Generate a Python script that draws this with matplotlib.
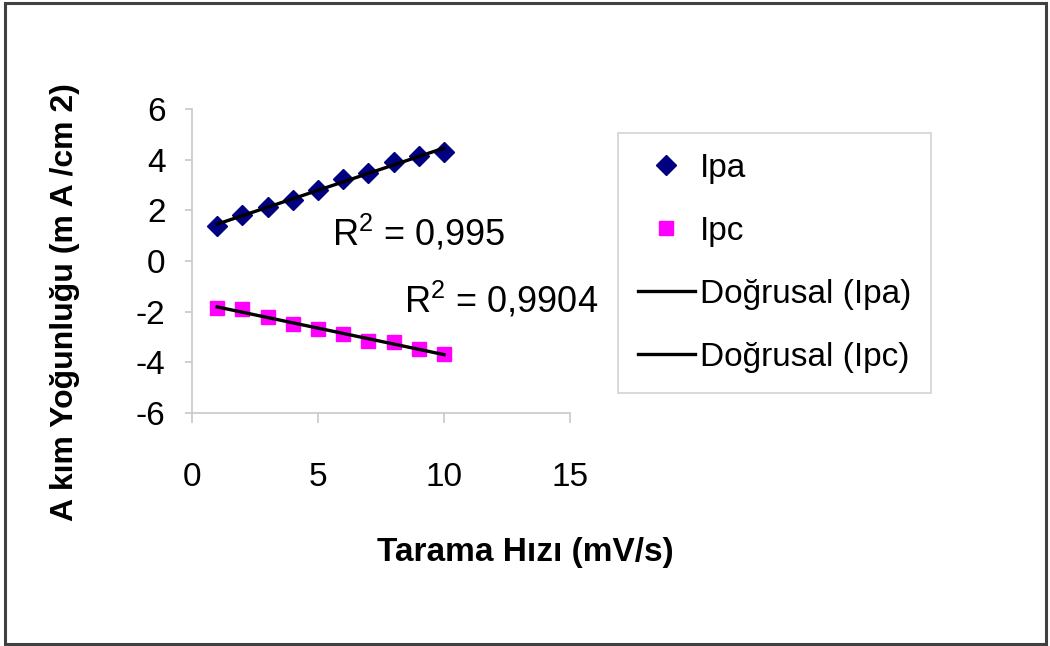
import numpy as np
import matplotlib
matplotlib.use("Agg")
import matplotlib.pyplot as plt
from matplotlib.patches import Rectangle
from matplotlib.lines import Line2D

plt.rcParams['font.family'] = ['Liberation Sans', 'DejaVu Sans']
plt.rcParams['mathtext.fontset'] = 'custom'
plt.rcParams['mathtext.rm'] = 'Liberation Sans'
plt.rcParams['axes.unicode_minus'] = False

# Scan rate (mV/s) and peak current densities (mA/cm2)
scan_rate = [1, 2, 3, 4, 5, 6, 7, 8, 9, 10]
ipa = [1.38, 1.81, 2.13, 2.41, 2.80, 3.23, 3.47, 3.90, 4.14, 4.30]
ipc = [-1.85, -1.90, -2.20, -2.50, -2.70, -2.90, -3.15, -3.20, -3.47, -3.67]
r2_labels = ["R$^{2}$ = 0,995", "R$^{2}$ = 0,9904"]
x_ticks = [0, 5, 10, 15]
y_ticks = [-6, -4, -2, 0, 2, 4, 6]

fig = plt.figure(figsize=(10.5, 6.46), dpi=100)
ax = fig.add_axes([192 / 1050, 1 - 413 / 646, (570 - 192) / 1050, (413 - 109) / 646])

x = np.array(scan_rate, dtype=float)
fit_a = np.polyfit(x, ipa, 1)
fit_c = np.polyfit(x, ipc, 1)

ax.plot(x, ipa, linestyle='none', marker='D', markersize=10, color='#000080', zorder=2)
ax.plot(x, ipc, linestyle='none', marker='s', markersize=9.5, color='#FF00FF', zorder=2)
ax.plot(x, np.polyval(fit_a, x), color='black', lw=2.4, zorder=3)
ax.plot(x, np.polyval(fit_c, x), color='black', lw=2.4, zorder=3)

ax.set_xlim(0, 15)
ax.set_ylim(-6, 6)
ax.set_xticks(x_ticks)
ax.set_yticks(y_ticks)
for s in ['top', 'right']:
    ax.spines[s].set_visible(False)
for s in ['left', 'bottom']:
    ax.spines[s].set_color('#c8c8c8')
    ax.spines[s].set_linewidth(1.2)
ax.tick_params(axis='y', direction='out', length=5, width=1.2, color='#c8c8c8',
               labelsize=24, pad=14)
ax.tick_params(axis='x', direction='out', length=7, width=1.2, color='#c8c8c8',
               labelsize=24, pad=28)

ax.text(5.55, 1.1, r2_labels[0], fontsize=26, ha='left', va='center')
ax.text(8.4, -1.55, r2_labels[1], fontsize=26, ha='left', va='center')

fig.text(525 / 1050, 1 - 553 / 646, "Tarama Hızı (mV/s)", fontsize=24,
         fontweight='bold', ha='center', va='center')
fig.text(65 / 1050, 1 - 302 / 646, "A kım Yoğunluğu (m A /cm 2)", fontsize=23,
         fontweight='bold', ha='center', va='center', rotation=90)

handles = [
    Line2D([], [], linestyle='none', marker='D', markersize=10, color='#000080'),
    Line2D([], [], linestyle='none', marker='s', markersize=9.5, color='#FF00FF'),
    Line2D([], [], color='black', lw=2.4),
    Line2D([], [], color='black', lw=2.4),
]
labels = ["Ipa", "Ipc", "Doğrusal (Ipa)", "Doğrusal (Ipc)"]
leg = fig.legend(handles, labels, loc='upper left',
                 bbox_to_anchor=(618 / 1050, 1 - 133 / 646),
                 fontsize=24, frameon=True, fancybox=False, shadow=False,
                 handlelength=1.7, handletextpad=0.15, labelspacing=0.96,
                 borderpad=0.6, borderaxespad=0)
leg.get_frame().set_edgecolor('#c8c8c8')
leg.get_frame().set_linewidth(1.2)

fig.patches.append(Rectangle((5 / 1050, 2 / 646), 1041 / 1050, 641 / 646,
                             transform=fig.transFigure, fill=False,
                             edgecolor='#404040', linewidth=2.2))

fig.savefig("out.png", dpi=100)
